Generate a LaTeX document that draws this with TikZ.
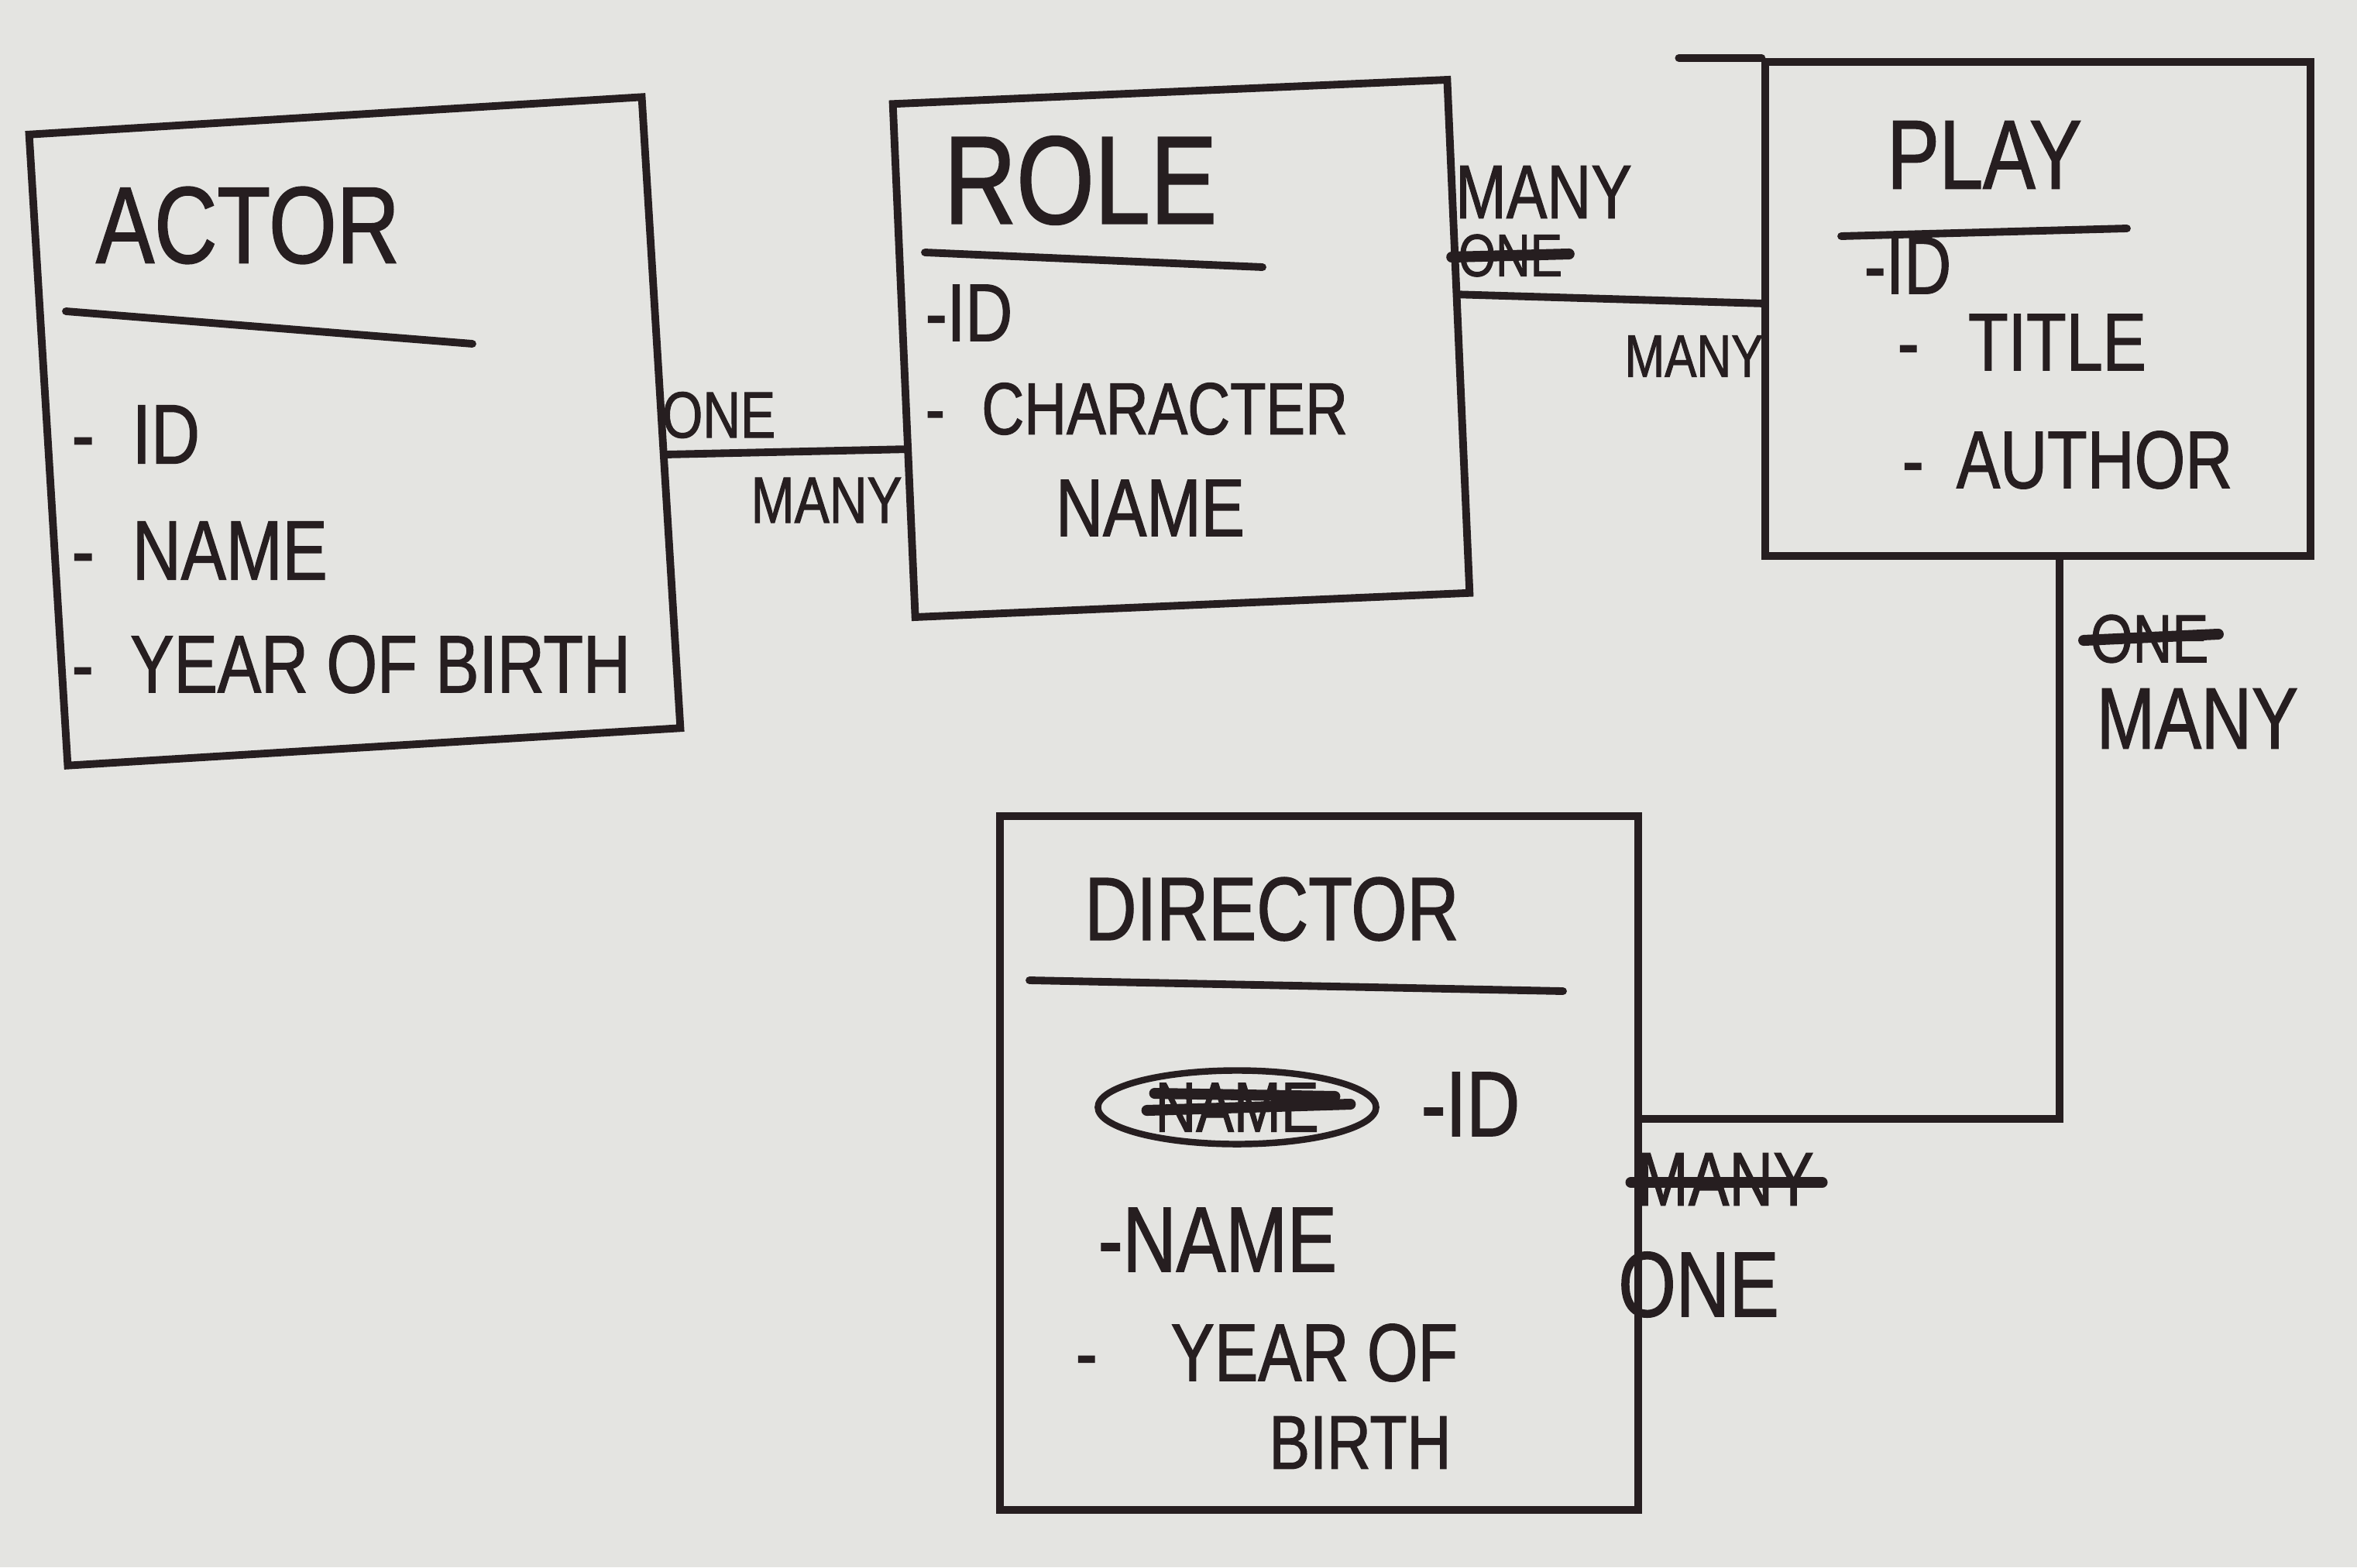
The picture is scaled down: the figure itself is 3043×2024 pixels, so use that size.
\documentclass[tikz,border=0pt]{standalone}
\usepackage{fontspec}
\setmainfont{Liberation Sans}[FakeStretch=0.8,FakeBold=1.2]
\usetikzlibrary{calc,shapes.geometric}
\definecolor{ink}{RGB}{38,30,32}
\definecolor{paper}{RGB}{228,228,225}
\begin{document}
\begin{tikzpicture}[x=0.01cm,y=-0.01cm,
  entity/.style={draw=ink, line width=2.8pt, rectangle, inner sep=0pt},
  ttl/.style={text=ink, inner sep=0pt},
  attr/.style={text=ink, inner sep=0pt, anchor=west, font=\fontsize{30}{34}\selectfont},
  lbl/.style={text=ink, inner sep=0pt, font=\fontsize{26}{30}\selectfont},
  rulel/.style={draw=ink, line width=2.8pt, line cap=round},
  conn/.style={draw=ink, line width=2.8pt, line cap=round},
  strike/.style={draw=ink, line width=4pt, line cap=round}]
\fill[paper] (0,0) rectangle (3043,2024);
\useasboundingbox (0,0) rectangle (3043,2024);

% entity boxes
\node[entity, rotate=3.5, minimum width=7.92cm, minimum height=8.16cm] (actor) at (458,557) {};
\node[entity, rotate=2.5, minimum width=7.16cm, minimum height=6.63cm] (role) at (1525,450) {};
\node[entity, minimum width=7.03cm, minimum height=6.38cm] (play) at (2631,399) {};
\node[entity, minimum width=8.24cm, minimum height=8.96cm] (director) at (1703,1502) {};
\draw[conn] (play.north west) -- ++(-107,0);

% titles
\node[ttl, font=\fontsize{40}{44}\selectfont] (actorT) at (320,291) {ACTOR};
\node[ttl, font=\fontsize{46}{50}\selectfont] (roleT) at (1395,233) {ROLE};
\node[ttl, font=\fontsize{36}{40}\selectfont] (playT) at (2562,200) {PLAY};
\node[ttl, font=\fontsize{33}{37}\selectfont] (dirT) at (1642,1174) {DIRECTOR};

% title rules
\draw[rulel] (85,402) -- (610,444);
\draw[rulel] (1194,326) -- (1630,345);
\draw[rulel] (2377,305) -- (2746,295);
\draw[rulel] (1329,1266) -- (2018,1280);

% ACTOR attributes
\node[attr, font=\fontsize{31}{35}\selectfont] (aId) at (92,561) {-\hspace{0.45em}ID};
\node[attr, font=\fontsize{31}{35}\selectfont] (aName) at (92,711) {-\hspace{0.45em}NAME};
\node[attr, font=\fontsize{30}{34}\selectfont] (aYob) at (92,858) {-\hspace{0.45em}YEAR OF BIRTH};

% ROLE attributes
\node[attr] (rId) at (1194,404) {-ID};
\node[attr, font=\fontsize{27}{31}\selectfont] (rChar) at (1194,528) {-\hspace{0.5em}CHARACTER};
\node[ttl, font=\fontsize{30}{34}\selectfont] (rName) at (1485,656) {NAME};

% PLAY attributes
\node[attr] (pId) at (2406,343) {-ID};
\node[attr] (pTitle) at (2449,442) {-\hspace{0.6em}TITLE};
\node[attr] (pAuthor) at (2455,594) {-\hspace{0.4em}AUTHOR};

% DIRECTOR attributes
\node[ttl, font=\fontsize{26}{30}\selectfont] (dOld) at (1597,1430) {NAME};
\node[draw=ink, line width=2.4pt, ellipse, minimum width=3.59cm, minimum height=0.95cm] (dEll) at (1597,1430) {};
\draw[strike] ($(dOld.west)+(-10,4)$) -- ($(dOld.east)+(40,-4)$);
\draw[strike] ($(dOld.west)+(0,-18)$) -- ($(dOld.east)+(20,-14)$);
\node[attr, font=\fontsize{34}{38}\selectfont] (dId) at (1834,1426) {-ID};
\node[attr, font=\fontsize{34}{38}\selectfont] (dName) at (1417,1601) {-NAME};
\node[attr, font=\fontsize{30}{34}\selectfont] (dYob) at (1388,1747) {-\hspace{0.9em}YEAR OF};
\node[ttl, font=\fontsize{28}{32}\selectfont] (dBirth) at (1756,1863) {BIRTH};

% connectors
\draw[conn] ($(actor.south east)!0.434!(actor.north east)$) -- ($(role.south west)!0.33!(role.north west)$);
\draw[conn] ($(role.south east)!0.58!(role.north east)$) -- ($(play.south west)!0.511!(play.north west)$);
\draw[conn] ($(play.south west)!0.539!(play.south east)$) |- ($(director.south east)!0.5625!(director.north east)$);

% cardinality labels
\node[lbl, font=\fontsize{24}{28}\selectfont] (l1) at (928,536) {ONE};
\node[lbl, font=\fontsize{24}{28}\selectfont] (l2) at (1067,646) {MANY};
\node[lbl, font=\fontsize{28}{32}\selectfont] (l3) at (1993,248) {MANY};
\node[lbl, font=\fontsize{22}{26}\selectfont] (l4) at (1950,330) {ONE};
\draw[strike] ($(l4.west)+(-8,2)$) -- ($(l4.east)+(8,-2)$);
\node[lbl, font=\fontsize{22}{26}\selectfont] (l5) at (2187,460) {MANY};
\node[lbl, font=\fontsize{25}{29}\selectfont] (l6) at (2775,825) {ONE};
\draw[strike] ($(l6.west)+(-8,2)$) -- ($(l6.east)+(12,-6)$);
\node[lbl, font=\fontsize{32}{36}\selectfont] (l7) at (2837,928) {MANY};
\node[lbl, font=\fontsize{28}{32}\selectfont] (l8) at (2228,1523) {MANY};
\draw[strike] ($(l8.west)+(-8,4)$) -- ($(l8.east)+(10,4)$);
\node[lbl, font=\fontsize{34}{38}\selectfont] (l9) at (2193,1659) {ONE};
\end{tikzpicture}
\end{document}
